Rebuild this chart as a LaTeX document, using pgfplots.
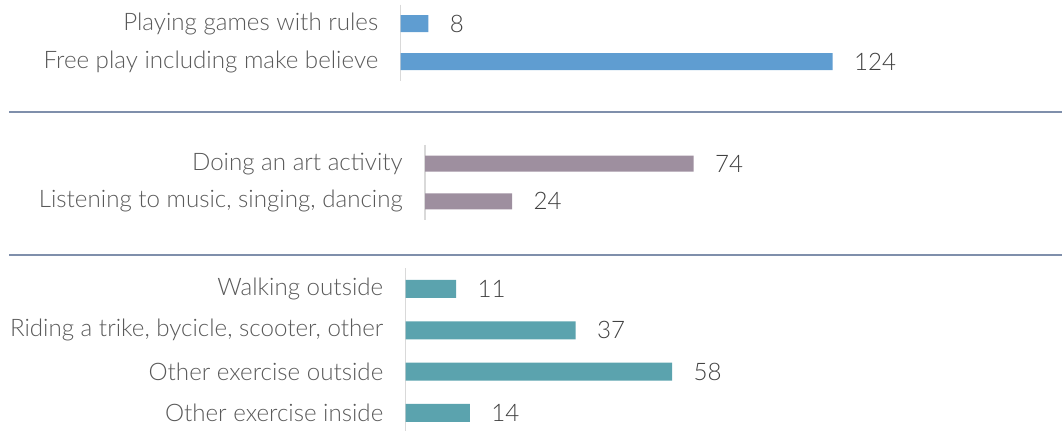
\documentclass[border=0pt]{standalone}
\usepackage{pgfplots}
\pgfplotsset{compat=1.18}
\usepackage{fontspec}
\setmainfont{Lato}[UprightFont={* Light}]
\definecolor{cblue}{HTML}{5F9DD1}
\definecolor{cmauve}{HTML}{9E8F9F}
\definecolor{cteal}{HTML}{5BA3AE}
\definecolor{csep}{HTML}{7F8FAB}
\definecolor{caxis}{HTML}{D9D9D9}
\definecolor{ctext}{HTML}{595959}
\definecolor{cval}{HTML}{404040}
\pgfplotsset{
  grp/.style={
    xbar, scale only axis, anchor=north west,
    xmin=0, enlargelimits=false, clip=false,
    y dir=reverse,
    axis x line=none, axis y line*=left,
    axis line style={-, draw=caxis, line width=1.3pt},
    major tick length=0pt, ytick=data,
    /pgf/number format/assume math mode=true,
    yticklabel style={font=\fontsize{18.1pt}{21pt}\selectfont, text=ctext, inner sep=0pt, anchor=east, xshift=-16.5pt},
    nodes near coords, nodes near coords align=horizontal,
    every node near coord/.append style={font=\fontsize{18.1pt}{21pt}\selectfont, text=cval, inner sep=0pt, anchor=west, xshift=16pt},
  }
}
\begin{document}
\begin{tikzpicture}
\useasboundingbox (0pt,0pt) rectangle (796.5pt,-323.25pt);
\draw[csep, line width=1.5pt] (7pt,-83.8pt) -- (796.5pt,-83.8pt);
\draw[csep, line width=1.5pt] (7pt,-191.25pt) -- (796.5pt,-191.25pt);
% group 1
\begin{axis}[grp, at={(300.375pt,-3.525pt)}, width=324pt, height=57pt,
  xmax=124, ymin=-0.5, ymax=1.5, bar width=12.75pt,
  yticklabels={Playing games with rules, Free play including make believe}]
\addplot[fill=cblue, draw=none] coordinates {(8,0) (124,1)};
\end{axis}
% group 2
\begin{axis}[grp, at={(318.75pt,-108.675pt)}, width=201.375pt, height=56.4pt,
  xmax=74, ymin=-0.5, ymax=1.5, bar width=12pt,
  yticklabels={Doing an art activity, {Listening to music, singing, dancing}}]
\addplot[fill=cmauve, draw=none] coordinates {(74,0) (24,1)};
\end{axis}
% group 3
\begin{axis}[grp, at={(304.125pt,-201.225pt)}, width=199.875pt, height=123.9pt,
  xmax=58, ymin=-0.5, ymax=3.5, bar width=13.5pt,
  yticklabels={Walking outside, {Riding a trike, bycicle, scooter, other}, Other exercise outside, Other exercise inside}]
\addplot[fill=cteal, draw=none] coordinates {(11,0) (37,1) (58,2) (14,3)};
\end{axis}
\end{tikzpicture}
\end{document}
